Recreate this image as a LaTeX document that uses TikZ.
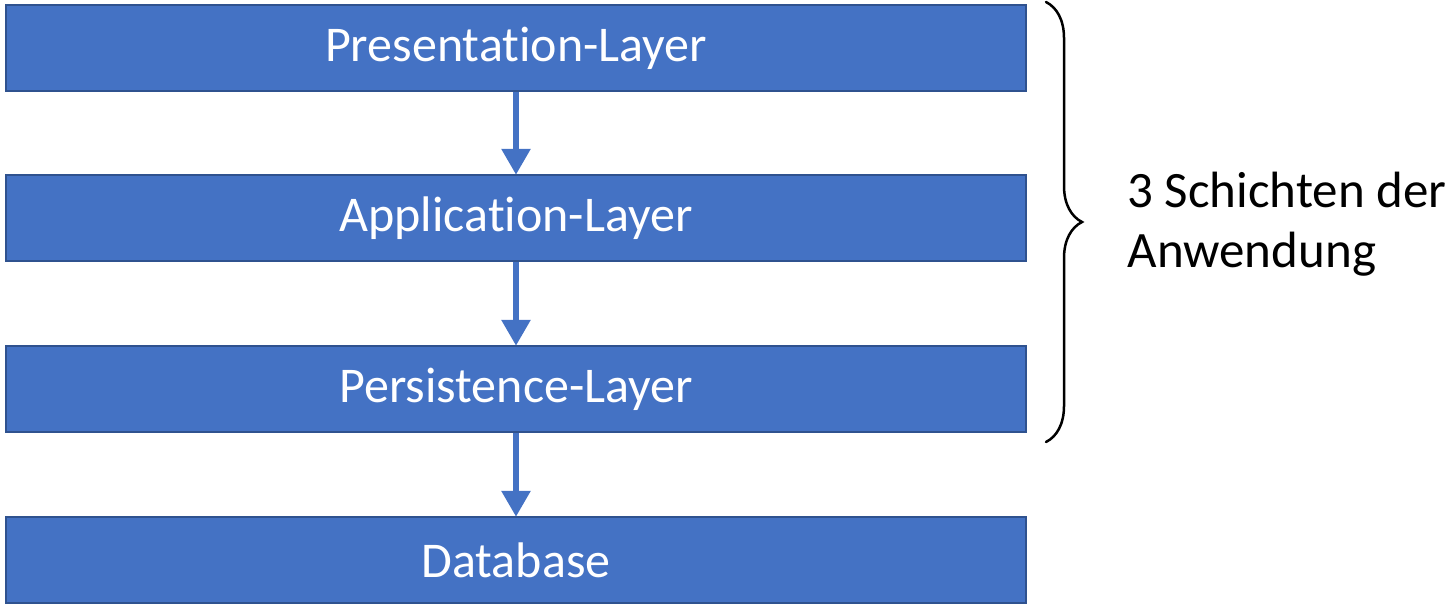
\documentclass[tikz,border=0pt]{standalone}
\usepackage{fontspec}
\setmainfont{Carlito}[Ligatures=NoCommon]
\usetikzlibrary{arrows.meta, decorations.pathreplacing}

\definecolor{layerblue}{HTML}{4472C4}
\definecolor{layeredge}{HTML}{2F528F}

\begin{document}
\begin{tikzpicture}[x=1pt, y=-1pt,
    % --- styles ---
    layer/.style={draw=layeredge, line width=2.5pt, fill=layerblue,
        minimum width=1020pt, minimum height=86pt, inner sep=0pt,
        text=white, font=\fontsize{50}{60}\selectfont},
    flow/.style={draw=layerblue, line width=6pt,
        -{Triangle[width=28pt, length=26pt]}, shorten >=-1pt},
    bracket/.style={decorate, decoration={brace, amplitude=36pt, aspect=0.5},
        line width=2.5pt, line cap=round},
    note/.style={font=\fontsize{51}{60}\selectfont, align=left, anchor=west}
]
    \useasboundingbox (0,0) rectangle (1450,610);

    % layers
    \node[layer] (pres) at (516, 48)  {Presentation-Layer};
    \node[layer] (app)  at (516, 218) {Application-Layer};
    \node[layer] (pers) at (516, 389) {Persistence-Layer};
    \node[layer] (db)   at (516, 560) {Database};

    % data flow
    \draw[flow] (pres) -- (app);
    \draw[flow] (app) -- (pers);
    \draw[flow] (pers) -- (db);

    % brace over the three layers
    \coordinate (brtop) at (1046, 2);
    \coordinate (brbot) at (1046, 442);
    \draw[bracket] (brtop) -- (brbot);

    \node[note] (label) at (1124, 224) {3 Schichten der\\Anwendung};

\end{tikzpicture}
\end{document}
